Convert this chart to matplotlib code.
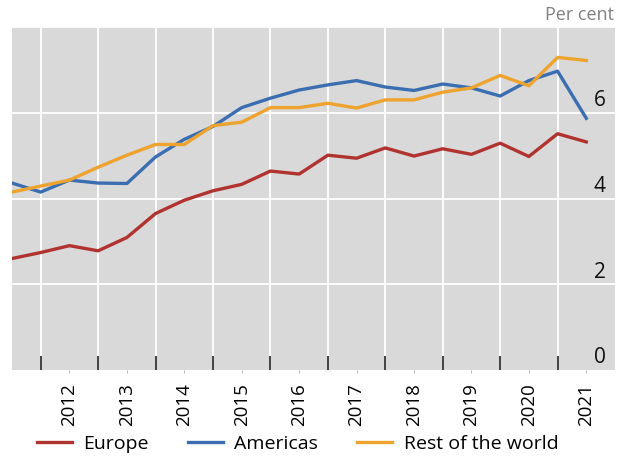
import matplotlib
matplotlib.use('Agg')
import matplotlib.pyplot as plt
import matplotlib.transforms as mtransforms
import numpy as np

plt.rcParams['font.family'] = ['Open Sans', 'DejaVu Sans']

# semi-annual observations, mid-2011 to mid-2021
periods = np.arange(2011.5, 2021.51, 0.5)
europe = [2.60, 2.74, 2.90, 2.78, 3.09, 3.65, 3.96, 4.18, 4.33, 4.64, 4.57,
          5.01, 4.94, 5.18, 4.99, 5.16, 5.03, 5.29, 4.98, 5.51, 5.32]
americas = [4.36, 4.15, 4.43, 4.36, 4.35, 4.97, 5.38, 5.68, 6.12, 6.34, 6.53,
            6.65, 6.75, 6.60, 6.52, 6.67, 6.58, 6.39, 6.75, 6.97, 5.87]
rest_world = [4.15, 4.29, 4.43, 4.73, 5.01, 5.26, 5.26, 5.70, 5.78, 6.12, 6.12,
              6.22, 6.11, 6.30, 6.30, 6.48, 6.58, 6.87, 6.63, 7.29, 7.22]
years = list(range(2012, 2022))
y_labels = [0, 2, 4, 6]

fig = plt.figure(figsize=(6.25, 4.59), dpi=100)
ax = fig.add_axes([12 / 625, 89 / 459, 603 / 625, 343 / 459])
ax.set_facecolor('#d9d9d9')

ax.plot(periods, europe, color='#b03330', lw=2.4, label='Europe', zorder=3)
ax.plot(periods, americas, color='#3a6eb0', lw=2.4, label='Americas', zorder=3)
ax.plot(periods, rest_world, color='#eda32d', lw=2.4, label='Rest of the world', zorder=3)

ax.set_xlim(2011.5, 2022)
ax.set_ylim(0, 8)

# year boundaries: white grid + dark inward ticks
ax.set_xticks(years)
ax.set_xticklabels([])
ax.tick_params(axis='x', which='major', direction='in', length=10, width=1.2,
               color='#222222')
# year labels in the middle of each year
ax.set_xticks([y + 0.5 for y in years], minor=True)
ax.set_xticklabels([str(y) for y in years], minor=True, rotation=90, fontsize=13.5)
ax.tick_params(axis='x', which='minor', direction='out', length=2.5,
               color='#aaaaaa', pad=7)
ax.set_yticks([2, 4, 6, 8])
ax.set_yticklabels([])
ax.tick_params(axis='y', length=0)
ax.grid(True, which='major', color='white', lw=1.3, zorder=1)
ax.set_axisbelow(True)
for s in ax.spines.values():
    s.set_visible(False)

trans = mtransforms.blended_transform_factory(ax.transAxes, ax.transData)
for v in y_labels:
    ax.text(0.985, v + 0.04, str(v), transform=trans, ha='right', va='bottom',
            fontsize=15, color='#111111')

fig.text(0.982, 0.967, 'Per cent', ha='right', va='center', fontsize=13,
         color='#808080')

fig.legend(loc='center', bbox_to_anchor=(0.476, 0.033), ncol=3, frameon=False,
           fontsize=14, handlelength=1.8, columnspacing=2.0, handletextpad=0.6)

fig.savefig('out.png', dpi=100)
